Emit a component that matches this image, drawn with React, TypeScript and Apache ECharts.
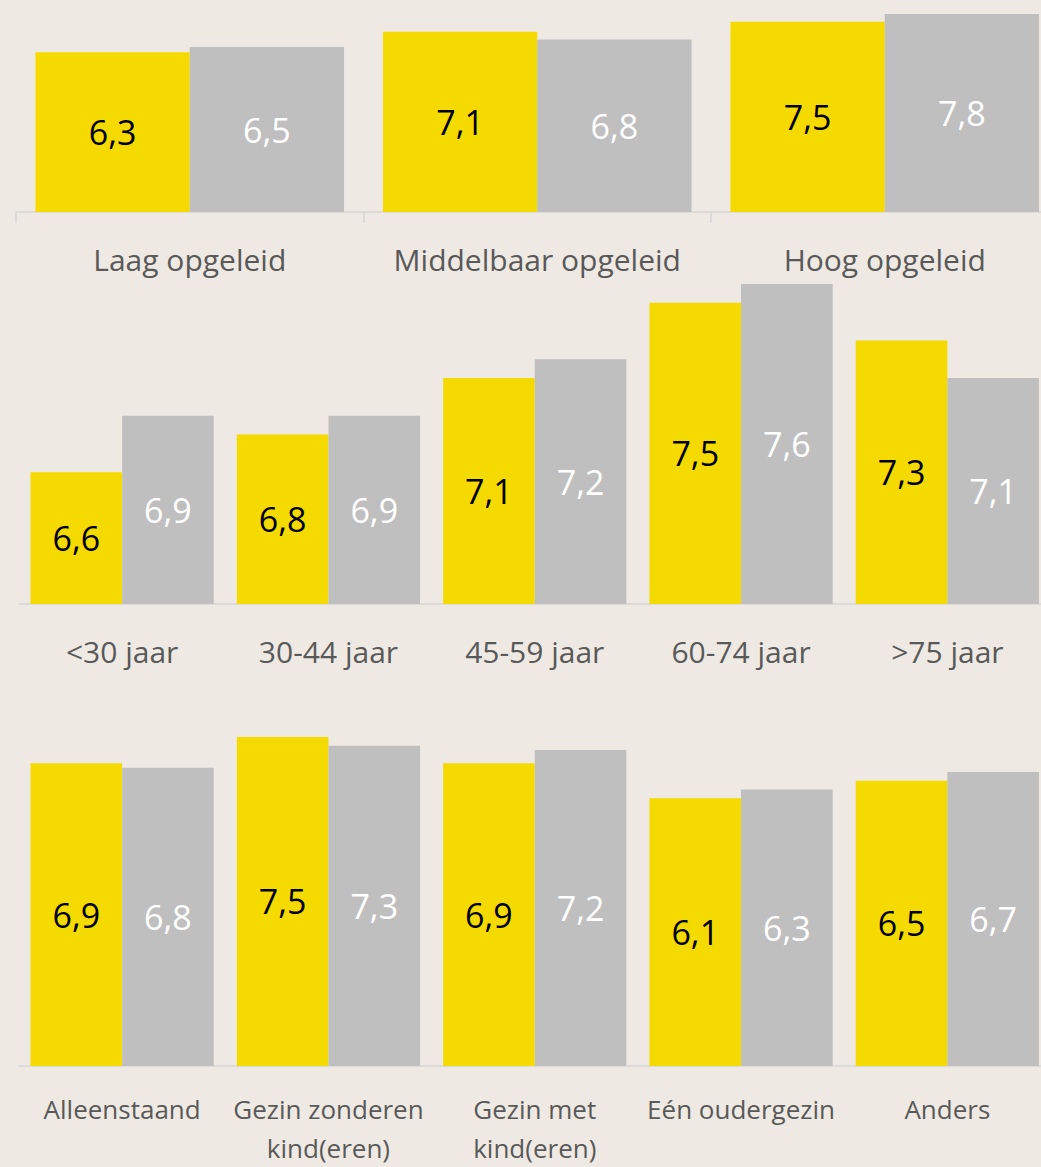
import React, { useEffect, useRef } from "react";
import * as echarts from "echarts";

// ---- data ----
const eduCategories = ["Laag opgeleid", "Middelbaar opgeleid", "Hoog opgeleid"];
const eduYellow = [6.3, 7.1, 7.5];
const eduGrey = [6.5, 6.8, 7.8];

const ageCategories = ["<30 jaar", "30-44 jaar", "45-59 jaar", "60-74 jaar", ">75 jaar"];
const ageYellow = [6.6, 6.8, 7.1, 7.5, 7.3];
const ageGrey = [6.9, 6.9, 7.2, 7.6, 7.1];

const houseCategories = [
  "Alleenstaand",
  "Gezin zonderen\nkind(eren)",
  "Gezin met\nkind(eren)",
  "Eén oudergezin",
  "Anders",
];
const houseYellow = [6.9, 7.5, 6.9, 6.1, 6.5];
const houseGrey = [6.8, 7.3, 7.2, 6.3, 6.7];

const YELLOW = "#F5DA00";
const GREY = "#BFBFBF";
const BG = "#EFE9E3";
const FONT = "'Open Sans', 'Noto Sans', sans-serif";

const fmt = (p: any) => Number(p.value).toFixed(1).replace(".", ",");

export default function App() {
  const ref = useRef<HTMLDivElement>(null);

  useEffect(() => {
    if (!ref.current) return;
    const chart = echarts.init(ref.current, undefined, { renderer: "svg" });

    const xAxisBase = (idx: number, cats: string[], opts: any) => ({
      type: "category",
      gridIndex: idx,
      data: cats,
      boundaryGap: true,
      axisLine: { show: true, lineStyle: { color: "#D6D6D6", width: 1.5 } },
      axisTick: opts.tick
        ? { show: true, length: 11, lineStyle: { color: "#D6D6D6", width: 1.5 } }
        : { show: false },
      axisLabel: {
        interval: 0,
        color: "#595959",
        fontFamily: FONT,
        fontSize: opts.fontSize,
        lineHeight: opts.lineHeight,
        margin: opts.margin,
      },
      splitLine: { show: false },
    });

    const yAxisBase = (idx: number, min: number, max: number) => ({
      type: "value",
      gridIndex: idx,
      min,
      max,
      show: false,
      splitLine: { show: false },
    });

    const barSeries = (
      idx: number,
      name: string,
      data: number[],
      color: string,
      labelColor: string
    ) => ({
      type: "bar",
      name,
      xAxisIndex: idx,
      yAxisIndex: idx,
      data,
      barGap: "0%",
      barCategoryGap: "11.2%",
      itemStyle: { color },
      label: {
        show: true,
        position: "inside",
        formatter: fmt,
        color: labelColor,
        fontFamily: FONT,
        fontSize: 34,
      },
    });

    chart.setOption({
      animation: false,
      backgroundColor: BG,
      grid: [
        { left: 16, right: 11.5, top: 9, bottom: 955, containLabel: false },
        { left: 19, right: 19.5, top: 284, bottom: 563, containLabel: false },
        { left: 19, right: 19.5, top: 715, bottom: 91, containLabel: false },
      ],
      xAxis: [
        xAxisBase(0, eduCategories, { tick: true, fontSize: 30, lineHeight: 30, margin: 32 }),
        xAxisBase(1, ageCategories, { tick: false, fontSize: 30, lineHeight: 30, margin: 32 }),
        xAxisBase(2, houseCategories, { tick: false, fontSize: 26, lineHeight: 39, margin: 23 }),
      ],
      yAxis: [yAxisBase(0, 0, 8), yAxisBase(1, 5.9, 7.6), yAxisBase(2, 0, 8)],
      series: [
        barSeries(0, "Reeks 1", eduYellow, YELLOW, "#000000"),
        barSeries(0, "Reeks 2", eduGrey, GREY, "#FFFFFF"),
        barSeries(1, "Reeks 1", ageYellow, YELLOW, "#000000"),
        barSeries(1, "Reeks 2", ageGrey, GREY, "#FFFFFF"),
        barSeries(2, "Reeks 1", houseYellow, YELLOW, "#000000"),
        barSeries(2, "Reeks 2", houseGrey, GREY, "#FFFFFF"),
      ],
    });

    return () => chart.dispose();
  }, []);

  return (
    <div
      style={{
        position: "absolute",
        left: 0,
        top: 0,
        width: 1041,
        height: 1167,
        overflow: "hidden",
        background: BG,
      }}
    >
      <div ref={ref} style={{ width: 1070, height: 1167 }} />
    </div>
  );
}
